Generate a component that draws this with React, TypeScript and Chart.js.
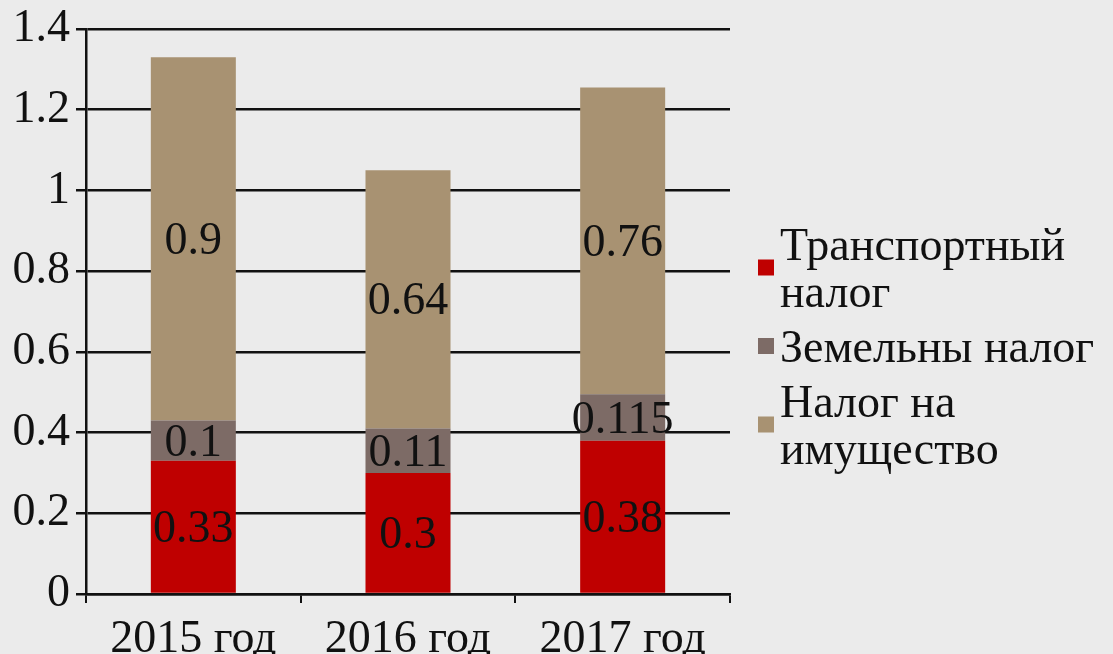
import React, { useEffect, useRef } from "react";
import { Chart, registerables } from "chart.js";

Chart.register(...registerables);

const categories = ["2015 год", "2016 год", "2017 год"];
const transportTax = [0.33, 0.3, 0.38];
const landTax = [0.1, 0.11, 0.115];
const propertyTax = [0.9, 0.64, 0.76];
const seriesNames = [["Транспортный", "налог"], ["Земельны налог"], ["Налог на", "имущество"]];
const seriesColors = ["#bf0000", "#7d6b66", "#a89272"];
const yTickLabels = ["0", "0.2", "0.4", "0.6", "0.8", "1", "1.2", "1.4"];

const FONT = "'Liberation Serif', 'Times New Roman', serif";
const INK = "#111111";

const dataLabelPlugin = {
  id: "segLabels",
  afterDatasetsDraw(chart: any) {
    const ctx = chart.ctx;
    ctx.save();
    ctx.font = `46px ${FONT}`;
    ctx.fillStyle = INK;
    ctx.textAlign = "center";
    ctx.textBaseline = "middle";
    chart.data.datasets.forEach((ds: any, di: number) => {
      const meta = chart.getDatasetMeta(di);
      meta.data.forEach((el: any, i: number) => {
        const v = ds.data[i];
        const p = el.getProps(["x", "y", "base"], true);
        ctx.fillText(String(v), p.x, (p.y + p.base) / 2 + 3);
      });
    });
    ctx.restore();
  },
};

const legendPlugin = {
  id: "customLegend",
  afterDraw(chart: any) {
    const ctx = chart.ctx;
    ctx.save();
    ctx.font = `46px ${FONT}`;
    ctx.textAlign = "left";
    ctx.textBaseline = "alphabetic";
    const lineH = 47;
    const itemGap = 55;
    let baseline = 260;
    const boxX = 758;
    const box = 16;
    const textX = 780;
    chart.data.datasets.forEach((ds: any, di: number) => {
      const lines = seriesNames[di];
      const first = baseline;
      const last = baseline + (lines.length - 1) * lineH;
      const cy = (first + last) / 2 - 16;
      ctx.fillStyle = ds.backgroundColor;
      ctx.fillRect(boxX, cy - box / 2, box, box);
      ctx.fillStyle = INK;
      lines.forEach((t: string, li: number) => {
        ctx.fillText(t, textX, first + li * lineH);
      });
      baseline = last + itemGap;
    });
    ctx.restore();
  },
};

export default function App() {
  const ref = useRef<HTMLCanvasElement | null>(null);
  useEffect(() => {
    if (!ref.current) return;
    const chart = new Chart(ref.current, {
      type: "bar",
      data: {
        labels: categories,
        datasets: [
          { label: seriesNames[0].join(" "), data: transportTax, backgroundColor: seriesColors[0] },
          { label: seriesNames[1].join(" "), data: landTax, backgroundColor: seriesColors[1] },
          { label: seriesNames[2].join(" "), data: propertyTax, backgroundColor: seriesColors[2] },
        ],
      },
      options: {
        animation: false,
        responsive: true,
        maintainAspectRatio: false,
        layout: { padding: { top: 29, right: 383, left: 0, bottom: 0 } },
        datasets: { bar: { categoryPercentage: 1, barPercentage: 0.396, borderWidth: 0 } },
        plugins: { legend: { display: false }, tooltip: { enabled: false } },
        scales: {
          x: {
            stacked: true,
            grid: { drawOnChartArea: false, drawTicks: true, tickLength: 9, color: INK, lineWidth: 2 },
            border: { display: true, color: INK, width: 2.5 },
            ticks: { color: INK, font: { family: FONT, size: 46 }, padding: 9, maxRotation: 0 },
            afterFit: (s: any) => { s.height = 60; s.paddingLeft = 0; s.paddingRight = 0; },
          },
          y: {
            stacked: true,
            min: 0,
            max: 1.4,
            grid: { color: INK, lineWidth: 2.5, tickLength: 10 },
            border: { display: true, color: INK, width: 2.5 },
            ticks: {
              stepSize: 0.2,
              color: INK,
              padding: 6,
              font: { family: FONT, size: 46 },
              callback: (_v: any, i: number) => yTickLabels[i],
            },
            afterFit: (s: any) => { s.width = 86; s.paddingTop = 0; s.paddingBottom = 0; },
          },
        },
      },
      plugins: [dataLabelPlugin, legendPlugin],
    });
    return () => chart.destroy();
  }, []);
  return (
    <div style={{ position: "absolute", left: 0, top: 0, width: 1113, height: 654, background: "#ebebeb" }}>
      <canvas ref={ref} />
    </div>
  );
}
